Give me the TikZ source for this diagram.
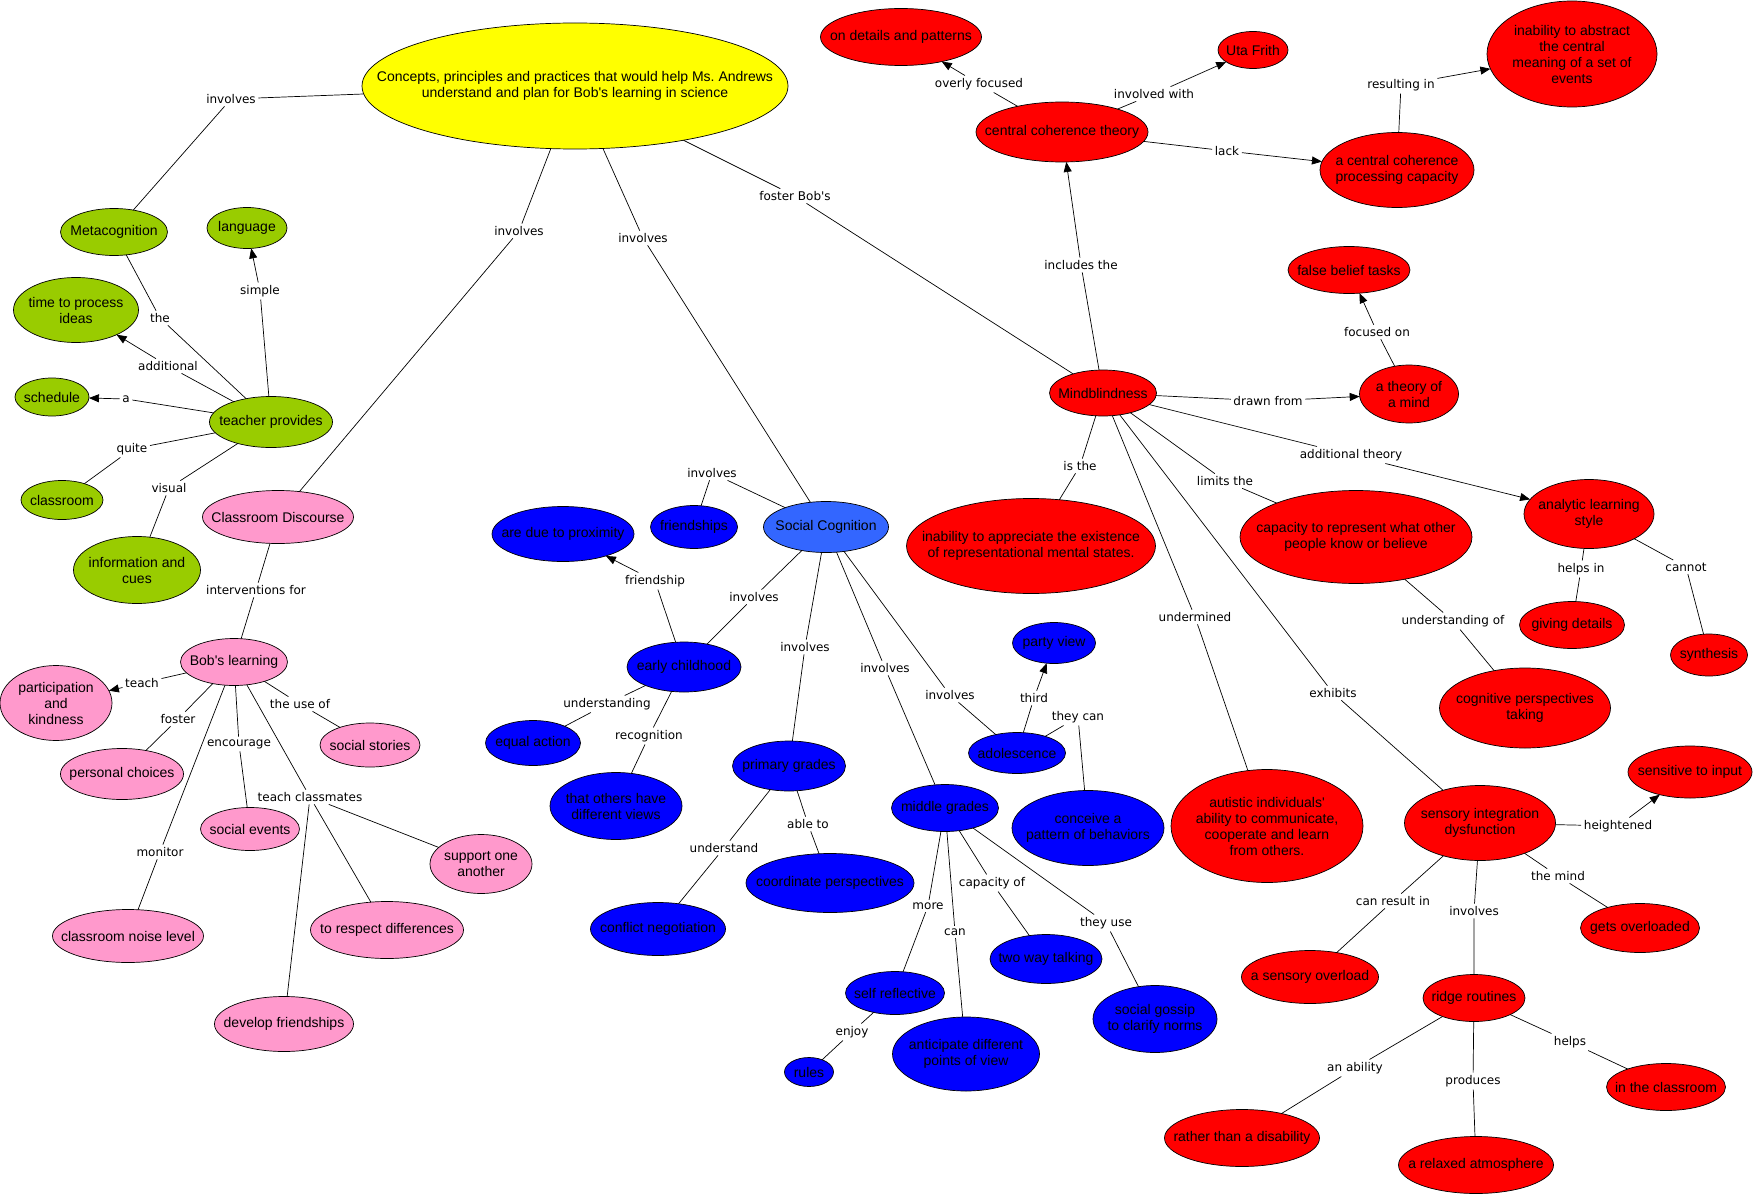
\documentclass[tikz,border=0pt]{standalone}
\usepackage{fontspec}
\setmainfont{Liberation Sans}
\newfontfamily\linkfont{DejaVu Sans}
\usetikzlibrary{arrows.meta,shapes.geometric}
\frenchspacing

\definecolor{cmyellow}{RGB}{255,255,0}
\definecolor{cmgreen}{RGB}{153,204,0}
\definecolor{cmpink}{RGB}{255,153,204}
\definecolor{cmblue}{RGB}{0,0,255}
\definecolor{cmsky}{RGB}{51,102,255}
\definecolor{cmred}{RGB}{255,0,0}

% ellipse of a given size, text set on top of it
\newcommand{\concept}[6]{%
  \node[#1, minimum width=#4pt, minimum height=#5pt] (#2) at (#3) {};
  \node[ideatext] (#2-t) at (#2) {#6};}
\newcommand{\apos}{\textquotesingle}

\begin{document}
\begin{tikzpicture}[
    x=1pt, y=-1pt,
    idea/.style={ellipse, draw, line width=0.7pt, inner sep=0pt, outer sep=0pt},
    yellowidea/.style={idea, fill=cmyellow},
    greenidea/.style={idea, fill=cmgreen},
    pinkidea/.style={idea, fill=cmpink},
    blueidea/.style={idea, fill=cmblue},
    skyidea/.style={idea, fill=cmsky},
    redidea/.style={idea, fill=cmred},
    ideatext/.style={font=\fontsize{14}{16}\selectfont, align=center, inner sep=0pt},
    note/.style={font=\linkfont\fontsize{12}{14}\selectfont, inner sep=2.5pt},
    link/.style={line width=0.7pt},
    flow/.style={-{Triangle[length=10pt,width=8pt]}, line width=0.7pt},
]
    \useasboundingbox (0,0) rectangle (1756,1196);

    \concept{yellowidea}{main}{575,86}{426}{126}{Concepts, principles and practices that would help Ms. Andrews\\understand and plan for Bob\apos s learning in science}

    % metacognition
    \concept{greenidea}{meta}{114,232}{107}{47}{Metacognition}
    \concept{greenidea}{lang}{247,228}{80}{41}{language}
    \concept{greenidea}{time}{76,310}{125}{65}{time to process\\ideas}
    \concept{greenidea}{sched}{52,397}{74}{38}{schedule}
    \concept{greenidea}{teacher}{271,422}{123}{51}{teacher provides}
    \concept{greenidea}{classrm}{62,500}{82}{39}{classroom}
    \concept{greenidea}{info}{137,570}{127}{67}{information and\\cues}

    % classroom discourse
    \concept{pinkidea}{disc}{278,517}{151}{53}{Classroom Discourse}
    \concept{pinkidea}{bob}{234,662}{107}{47}{Bob\apos s learning}
    \concept{pinkidea}{partic}{56,703}{112}{75}{participation\\and\\kindness}
    \concept{pinkidea}{stories}{370,745}{100}{44}{social stories}
    \concept{pinkidea}{choices}{122,774}{123}{51}{personal choices}
    \concept{pinkidea}{events}{250,829}{99}{43}{social events}
    \concept{pinkidea}{support}{481,864}{102}{59}{support one\\another}
    \concept{pinkidea}{noise}{128,936}{151}{53}{classroom noise level}
    \concept{pinkidea}{respect}{387,930}{153}{57}{to respect differences}
    \concept{pinkidea}{friendsh}{284,1024}{139}{55}{develop friendships}

    % social cognition
    \concept{skyidea}{socog}{826,527}{125}{51}{Social Cognition}
    \concept{blueidea}{friends}{694,527}{87}{43}{friendships}
    \concept{blueidea}{prox}{563,534}{142}{55}{are due to proximity}
    \concept{blueidea}{early}{684,667}{114}{50}{early childhood}
    \concept{blueidea}{equal}{533,743}{95}{45}{equal action}
    \concept{blueidea}{views}{616,806}{132}{67}{that others have\\different views}
    \concept{blueidea}{primary}{789,766}{113}{50}{primary grades}
    \concept{blueidea}{adol}{1017,753}{97}{41}{adolescence}
    \concept{blueidea}{party}{1054,643}{83}{41}{party view}
    \concept{blueidea}{middle}{945,808}{107}{47}{middle grades}
    \concept{blueidea}{pattern}{1088,828}{152}{75}{conceive a\\pattern of behaviors}
    \concept{blueidea}{coord}{830,883}{168}{59}{coordinate perspectives}
    \concept{blueidea}{conflict}{658,929}{135}{53}{conflict negotiation}
    \concept{blueidea}{talking}{1046,959}{112}{49}{two way talking}
    \concept{blueidea}{reflect}{895,993}{99}{43}{self reflective}
    \concept{blueidea}{gossip}{1155,1019}{124}{67}{social gossip\\to clarify norms}
    \concept{blueidea}{antic}{966,1054}{147}{74}{anticipate different\\points of view}
    \concept{blueidea}{rules}{809,1072}{49}{29}{rules}

    % mindblindness
    \concept{redidea}{mind}{1103,393}{107}{46}{Mindblindness}
    \concept{redidea}{cct}{1062,132}{172}{60}{central coherence theory}
    \concept{redidea}{details}{901,37}{161}{57}{on details and patterns}
    \concept{redidea}{uta}{1253,50}{70}{37}{Uta Frith}
    \concept{redidea}{ccpc}{1397,170}{154}{75}{a central coherence\\processing capacity}
    \concept{redidea}{abstract}{1572,54}{170}{106}{inability to abstract\\the central\\meaning of a set of\\events}
    \concept{redidea}{falsebelief}{1349,270}{122}{47}{false belief tasks}
    \concept{redidea}{theory}{1409,394}{99}{58}{a theory of\\a mind}
    \concept{redidea}{appreciate}{1031,546}{249}{95}{inability to appreciate the existence\\of representational mental states.}
    \concept{redidea}{capacity}{1356,537}{232}{93}{capacity to represent what other\\people know or believe}
    \concept{redidea}{analytic}{1589,514}{130}{69}{analytic learning\\style}
    \concept{redidea}{giving}{1572,625}{105}{47}{giving details}
    \concept{redidea}{synthesis}{1709,655}{77}{42}{synthesis}
    \concept{redidea}{cognitive}{1525,708}{171}{80}{cognitive perspectives\\taking}
    \concept{redidea}{autistic}{1267,826}{192}{113}{autistic individuals\apos\\ability to communicate,\\cooperate and learn\\from others.}
    \concept{redidea}{sensory}{1480,823}{151}{75}{sensory integration\\dysfunction}
    \concept{redidea}{sensitive}{1690,772}{124}{52}{sensitive to input}
    \concept{redidea}{overloaded}{1640,928}{119}{49}{gets overloaded}
    \concept{redidea}{overload}{1310,977}{137}{53}{a sensory overload}
    \concept{redidea}{ridge}{1474,998}{102}{47}{ridge routines}
    \concept{redidea}{inclass}{1666,1087}{119}{47}{in the classroom}
    \concept{redidea}{rather}{1242,1138}{155}{57}{rather than a disability}
    \concept{redidea}{relaxed}{1476,1165}{155}{57}{a relaxed atmosphere}

    % linking phrases
    \node[note] (inv1) at (231,99) {involves};
    \node[note] (inv2) at (519,231) {involves};
    \node[note] (inv3) at (643,238) {involves};
    \node[note] (fosterbob) at (795,196) {foster Bob\apos s};
    \node[note] (the) at (160,318) {the};
    \node[note] (simple) at (260,291) {simple};
    \node[note] (additional) at (168,366) {additional};
    \node[note] (alabel) at (126,399) {a};
    \node[note] (quite) at (132,449) {quite};
    \node[note] (visual) at (169,488) {visual};
    \node[note] (interv) at (256,590) {interventions for};
    \node[note] (teach) at (142,683) {teach};
    \node[note] (useof) at (300,704) {the use of};
    \node[note] (foster) at (178,719) {foster};
    \node[note] (encourage) at (239,744) {encourage};
    \node[note] (monitor) at (160,852) {monitor};
    \node[note] (classmates) at (310,797) {teach classmates};
    \node[note] (inv4) at (712,473) {involves};
    \node[note] (inv5) at (754,597) {involves};
    \node[note] (inv6) at (805,647) {involves};
    \node[note] (inv7) at (885,668) {involves};
    \node[note] (inv8) at (950,695) {involves};
    \node[note] (friendship) at (655,581) {friendship};
    \node[note] (understanding) at (607,704) {understanding};
    \node[note] (recognition) at (649,736) {recognition};
    \node[note] (understand) at (724,848) {understand};
    \node[note] (ableto) at (808,824) {able to};
    \node[note] (third) at (1034,698) {third};
    \node[note] (theycan) at (1078,717) {they can};
    \node[note] (more) at (928,906) {more};
    \node[note] (can) at (955,932) {can};
    \node[note] (capof) at (992,883) {capacity of};
    \node[note] (theyuse) at (1106,923) {they use};
    \node[note] (enjoy) at (852,1032) {enjoy};
    \node[note] (overly) at (979,84) {overly focused};
    \node[note] (involvedwith) at (1154,94) {involved with};
    \node[note] (lack) at (1227,151) {lack};
    \node[note] (resulting) at (1401,85) {resulting in};
    \node[note] (includes) at (1081,265) {includes the};
    \node[note] (focusedon) at (1377,332) {focused on};
    \node[note] (drawn) at (1268,401) {drawn from};
    \node[note] (isthe) at (1080,466) {is the};
    \node[note] (addtheory) at (1351,455) {additional theory};
    \node[note] (limits) at (1225,481) {limits the};
    \node[note] (helpsin) at (1581,569) {helps in};
    \node[note] (cannot) at (1686,567) {cannot};
    \node[note] (undermined) at (1195,617) {undermined};
    \node[note] (understof) at (1453,621) {understanding of};
    \node[note] (exhibits) at (1333,693) {exhibits};
    \node[note] (heightened) at (1618,826) {heightened};
    \node[note] (themind) at (1558,876) {the mind};
    \node[note] (resultin) at (1393,901) {can result in};
    \node[note] (inv9) at (1474,911) {involves};
    \node[note] (helps) at (1570,1042) {helps};
    \node[note] (ability) at (1355,1068) {an ability};
    \node[note] (produces) at (1473,1081) {produces};

    % connectors
    \draw[link] (main) -- (inv1) (inv1) -- (meta);
    \draw[link] (main) -- (inv2) (inv2) -- (disc);
    \draw[link] (main) -- (inv3) (inv3) -- (socog);
    \draw[link] (main) -- (fosterbob) (fosterbob) -- (mind);

    \draw[link] (meta) -- (the) (the) -- (teacher);
    \draw[flow] (teacher) -- (simple) (simple) -- (lang);
    \draw[flow] (teacher) -- (additional) (additional) -- (time);
    \draw[flow] (teacher) -- (alabel) (alabel) -- (sched);
    \draw[link] (teacher) -- (quite) (quite) -- (classrm);
    \draw[link] (teacher) -- (visual) (visual) -- (info);

    \draw[link] (disc) -- (interv) (interv) -- (bob);
    \draw[flow] (bob) -- (teach) (teach) -- (partic);
    \draw[link] (bob) -- (useof) (useof) -- (stories);
    \draw[link] (bob) -- (foster) (foster) -- (choices);
    \draw[link] (bob) -- (encourage) (encourage) -- (events);
    \draw[link] (bob) -- (monitor) (monitor) -- (noise);
    \draw[link] (bob) -- (classmates) (classmates) -- (support)
        (classmates) -- (respect) (classmates) -- (friendsh);

    \draw[link] (socog) -- (inv4) (inv4) -- (friends);
    \draw[link] (socog) -- (inv5) (inv5) -- (early);
    \draw[link] (socog) -- (inv6) (inv6) -- (primary);
    \draw[link] (socog) -- (inv7) (inv7) -- (middle);
    \draw[link] (socog) -- (inv8) (inv8) -- (adol);
    \draw[flow] (early) -- (friendship) (friendship) -- (prox);
    \draw[link] (early) -- (understanding) (understanding) -- (equal);
    \draw[link] (early) -- (recognition) (recognition) -- (views);
    \draw[link] (primary) -- (understand) (understand) -- (conflict);
    \draw[link] (primary) -- (ableto) (ableto) -- (coord);
    \draw[flow] (adol) -- (third) (third) -- (party);
    \draw[link] (adol) -- (theycan) (theycan) -- (pattern);
    \draw[link] (middle) -- (more) (more) -- (reflect);
    \draw[link] (middle) -- (can) (can) -- (antic);
    \draw[link] (middle) -- (capof) (capof) -- (talking);
    \draw[link] (middle) -- (theyuse) (theyuse) -- (gossip);
    \draw[link] (reflect) -- (enjoy) (enjoy) -- (rules);

    \draw[flow] (cct) -- (overly) (overly) -- (details);
    \draw[flow] (cct) -- (involvedwith) (involvedwith) -- (uta);
    \draw[flow] (cct) -- (lack) (lack) -- (ccpc);
    \draw[flow] (ccpc) -- (resulting) (resulting) -- (abstract);
    \draw[flow] (mind) -- (includes) (includes) -- (cct);
    \draw[flow] (theory) -- (focusedon) (focusedon) -- (falsebelief);
    \draw[flow] (mind) -- (drawn) (drawn) -- (theory);
    \draw[link] (mind) -- (isthe) (isthe) -- (appreciate);
    \draw[flow] (mind) -- (addtheory) (addtheory) -- (analytic);
    \draw[link] (mind) -- (limits) (limits) -- (capacity);
    \draw[link] (analytic) -- (helpsin) (helpsin) -- (giving);
    \draw[link] (analytic) -- (cannot) (cannot) -- (synthesis);
    \draw[link] (mind) -- (undermined) (undermined) -- (autistic);
    \draw[link] (capacity) -- (understof) (understof) -- (cognitive);
    \draw[link] (mind) -- (exhibits) (exhibits) -- (sensory);
    \draw[flow] (sensory) -- (heightened) (heightened) -- (sensitive);
    \draw[link] (sensory) -- (themind) (themind) -- (overloaded);
    \draw[link] (sensory) -- (resultin) (resultin) -- (overload);
    \draw[link] (sensory) -- (inv9) (inv9) -- (ridge);
    \draw[link] (ridge) -- (helps) (helps) -- (inclass);
    \draw[link] (ridge) -- (ability) (ability) -- (rather);
    \draw[link] (ridge) -- (produces) (produces) -- (relaxed);

\end{tikzpicture}
\end{document}
